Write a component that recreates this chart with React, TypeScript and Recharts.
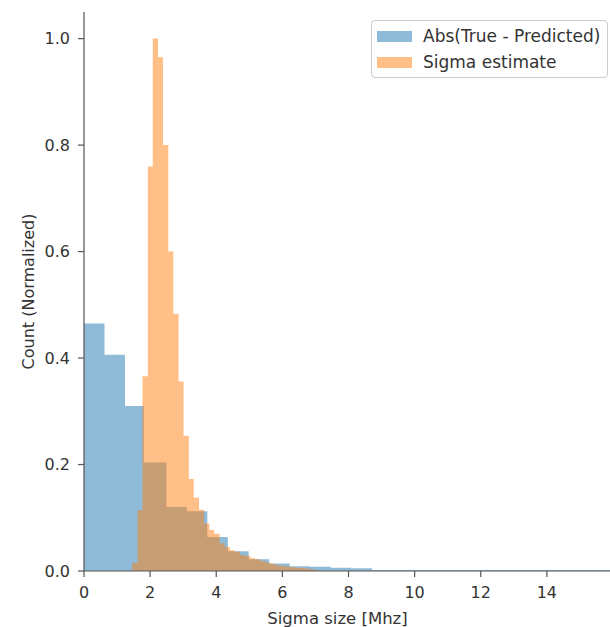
import React from 'react';
import { ComposedChart, Area, XAxis, YAxis, Legend } from 'recharts';

// bin edges (left edges + final right edge) and normalized counts
const absEdges = [
  0, 0.62, 1.24, 1.81, 2.49, 3.11, 3.73, 4.35, 4.98, 5.6, 6.22, 6.84, 7.46, 8.08, 8.71,
  9.33, 9.95, 10.57, 11.19, 11.82, 12.44, 13.06, 13.68, 14.3, 14.93, 15.55, 16.17,
];
const absCounts = [
  0.465, 0.406, 0.31, 0.204, 0.12, 0.112, 0.064, 0.037, 0.022, 0.014, 0.009, 0.008, 0.006, 0.005,
  0.002, 0.002, 0.002, 0.002, 0.002, 0.002, 0.002, 0.002, 0.002, 0.002, 0.002, 0.002,
];

const sigmaEdges = [
  1.46, 1.62, 1.77, 1.93, 2.08, 2.24, 2.39, 2.55, 2.7, 2.86, 3.01, 3.17, 3.32, 3.48, 3.63, 3.79,
  3.94, 4.1, 4.25, 4.41, 4.56, 4.72, 4.87, 5.03, 5.18, 5.34, 5.49, 5.65, 5.8, 5.96, 6.11, 6.27,
  6.42, 6.58, 6.73, 6.89, 7.04,
];
const sigmaCounts = [
  0.015, 0.114, 0.366, 0.76, 1.0, 0.965, 0.8, 0.6, 0.483, 0.356, 0.254, 0.173, 0.1375, 0.115,
  0.089, 0.077, 0.07, 0.052, 0.045, 0.039, 0.036, 0.03, 0.028, 0.024, 0.022, 0.019, 0.016, 0.013,
  0.011, 0.01, 0.008, 0.007, 0.006, 0.005, 0.004, 0.003,
];

const xTicks = [0, 2, 4, 6, 8, 10, 12, 14];
const yTicks = [0, 0.2, 0.4, 0.6, 0.8, 1.0];

const toSteps = (edges: number[], counts: number[]) =>
  edges.map((x, i) => ({ x, v: i < counts.length ? counts[i] : 0 }));

const absData = toSteps(absEdges, absCounts);
const sigmaData = toSteps(sigmaEdges, sigmaCounts);

const font = '"DejaVu Sans", sans-serif';
const ink = '#333';
const spine = '#555';
const blue = '#1f77b4';
const orange = '#ff7f0e';

const LegendBox = () => (
  <div
    style={{
      width: 237,
      boxSizing: 'border-box',
      border: '1px solid #ccc',
      borderRadius: 4,
      background: 'rgba(255,255,255,0.8)',
      padding: '2px 5px',
      fontFamily: font,
      fontSize: 17,
      color: ink,
    }}
  >
    {[
      { name: 'Abs(True - Predicted)', color: blue },
      { name: 'Sigma estimate', color: orange },
    ].map(item => (
      <div key={item.name} style={{ display: 'flex', alignItems: 'center', height: 26 }}>
        <span
          style={{
            display: 'inline-block',
            width: 35,
            height: 11,
            background: item.color,
            opacity: 0.5,
            marginRight: 11,
          }}
        />
        <span>{item.name}</span>
      </div>
    ))}
  </div>
);

const App: React.FC = () => {
  return (
    <div style={{ position: 'fixed', left: 0, top: 0, width: 610, height: 627, overflow: 'hidden', background: '#fff' }}>
      <ComposedChart width={640} height={627} margin={{ top: 12, right: 27, bottom: 0, left: 24 }}>
        <XAxis
          type="number"
          dataKey="x"
          domain={[0, 16]}
          ticks={xTicks}
          allowDataOverflow
          height={56}
          tickSize={6}
          tickMargin={10}
          stroke={spine}
          strokeWidth={1.2}
          tick={{ fill: ink, fontSize: 16, fontFamily: font }}
          label={{ value: 'Sigma size [Mhz]', position: 'insideBottom', offset: 3.5, dx: -11, fill: ink, fontSize: 16.5, fontFamily: font }}
        />
        <XAxis
          xAxisId="top"
          orientation="top"
          type="number"
          domain={[0, 16]}
          height={0}
          tick={false}
          tickLine={false}
          stroke={spine}
          strokeWidth={1.2}
        />
        <YAxis
          type="number"
          domain={[0, 1.05]}
          ticks={yTicks}
          allowDataOverflow
          width={60}
          tickSize={6}
          tickMargin={8}
          stroke={spine}
          strokeWidth={1.2}
          tickFormatter={(v: number) => v.toFixed(1)}
          tick={{ fill: ink, fontSize: 16, fontFamily: font }}
          label={{
            value: 'Count (Normalized)',
            angle: -90,
            position: 'insideLeft',
            offset: 4,
            fill: ink,
            fontSize: 16,
            fontFamily: font,
            style: { textAnchor: 'middle' },
          }}
        />
        <Area
          data={absData}
          dataKey="v"
          type="stepAfter"
          fill={blue}
          fillOpacity={0.5}
          stroke="none"
          isAnimationActive={false}
        />
        <Area
          data={sigmaData}
          dataKey="v"
          type="stepAfter"
          fill={orange}
          fillOpacity={0.5}
          stroke="none"
          isAnimationActive={false}
        />
        <Legend
          layout="vertical"
          align="center"
          verticalAlign="middle"
          wrapperStyle={{ top: 20, left: 371, width: 237 }}
          content={() => <LegendBox />}
        />
      </ComposedChart>
    </div>
  );
};

export default App;
